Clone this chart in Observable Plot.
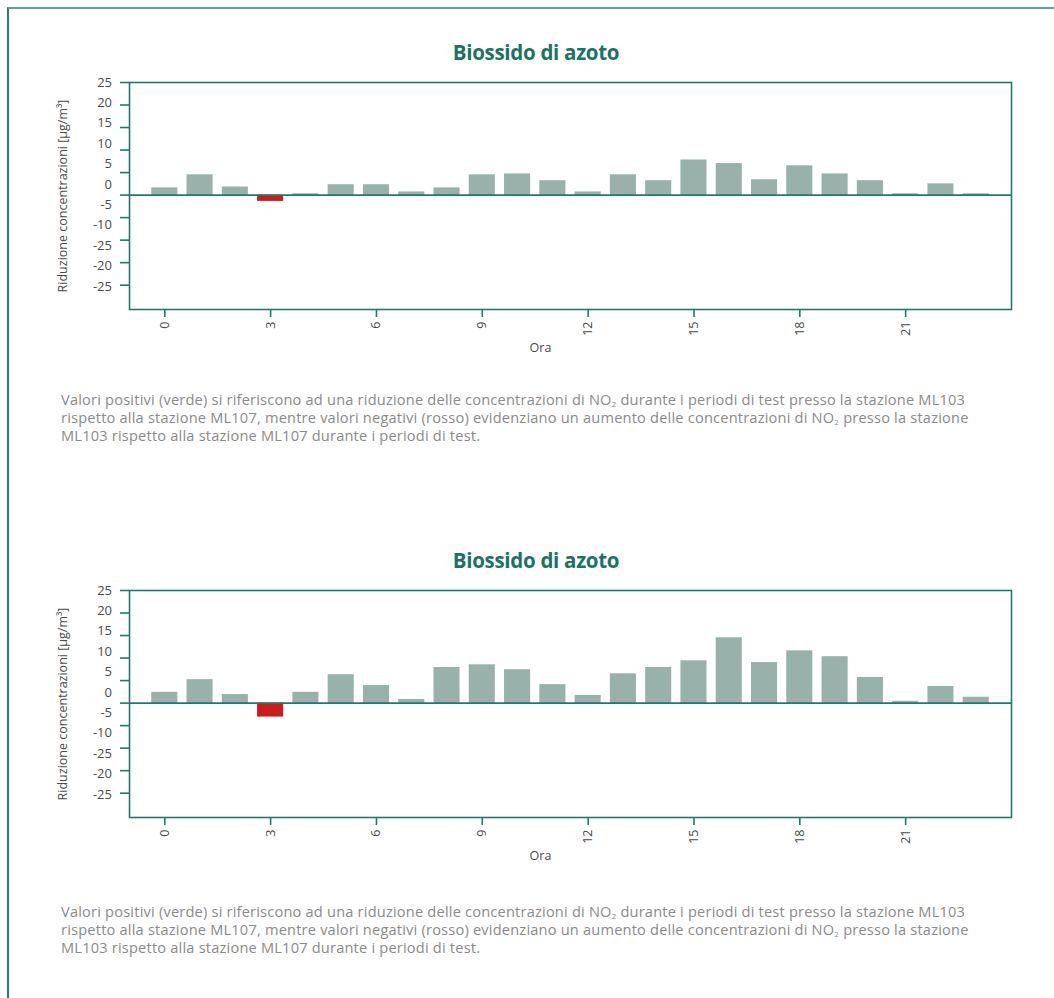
<!DOCTYPE html>
<html lang="it">
<head>
<meta charset="utf-8">
<script src="https://cdn.jsdelivr.net/npm/d3@7"></script>
<script src="https://cdn.jsdelivr.net/npm/@observablehq/plot@0.6"></script>
<style>
  html, body { margin: 0; padding: 0; background: #fff; }
  #page { position: relative; width: 1054px; height: 998px; overflow: hidden; font-family: "Open Sans", "Noto Sans", sans-serif; }
  #border { position: absolute; left: 7px; top: 7px; width: 1200px; height: 1200px;
            border-top: 2px solid #5fa297; border-left: 2px solid #2c7f72; }
  .title { position: absolute; left: 0; width: 1072px; text-align: center; font-weight: 700;
           font-size: 20.5px; color: #1b7363; letter-spacing: -0.3px; }
  .chart { position: absolute; left: 0; }
  .caption { position: absolute; left: 61px; font-size: 14.6px; letter-spacing: 0.2px; line-height: 18px; color: #8a8a8a; white-space: nowrap; }
  .caption sub { font-size: 8px; vertical-align: -1.5px; line-height: 0; }
</style>
</head>
<body>
<div id="page">
  <div id="border"></div>
  <div class="title" style="top:38px">Biossido di azoto</div>
  <div class="chart" id="chart1" style="top:70px"></div>
  <div class="caption" style="top:390px">Valori positivi (verde) si riferiscono ad una riduzione delle concentrazioni di NO<sub>2</sub> durante i periodi di test presso la stazione ML103<br>rispetto alla stazione ML107, mentre valori negativi (rosso) evidenziano un aumento delle concentrazioni di NO<sub>2</sub> presso la stazione<br>ML103 rispetto alla stazione ML107 durante i periodi di test.</div>
  <div class="title" style="top:546px">Biossido di azoto</div>
  <div class="chart" id="chart2" style="top:578px"></div>
  <div class="caption" style="top:902px">Valori positivi (verde) si riferiscono ad una riduzione delle concentrazioni di NO<sub>2</sub> durante i periodi di test presso la stazione ML103<br>rispetto alla stazione ML107, mentre valori negativi (rosso) evidenziano un aumento delle concentrazioni di NO<sub>2</sub> presso la stazione<br>ML103 rispetto alla stazione ML107 durante i periodi di test.</div>
</div>
<script>
// Hours of the day
const hours = d3.range(24);

// Reduction of NO2 concentration per hour, first panel [µg/m³]
const reduction1 = [1.6, 4.5, 1.8, -1.4, 0.3, 2.3, 2.3, 0.7, 1.6, 4.5, 4.7, 3.2,
                    0.7, 4.5, 3.2, 7.8, 7.0, 3.4, 6.5, 4.7, 3.2, 0.3, 2.5, 0.3];

// Reduction of NO2 concentration per hour, second panel [µg/m³]
const reduction2 = [2.4, 5.2, 1.9, -3.1, 2.4, 6.3, 3.9, 0.8, 7.9, 8.5, 7.4, 4.1,
                    1.7, 6.5, 7.9, 9.4, 14.5, 9.0, 11.6, 10.3, 5.7, 0.4, 3.7, 1.3];

// Axis ticks and their printed labels
const xTicks = [0, 3, 6, 9, 12, 15, 18, 21];
const yTicks = [25, 20, 15, 10, 5, 0, -5, -10, -15, -20];
const yTickLabels = ["25", "20", "15", "10", "5", "0", "-5", "-10", "-25", "-20", "-25"];

const xLabel = "Ora";
const yLabel = "Riduzione concentrazioni [µg/m³]";

const teal = "#23786b";
const green = "#98b1ab";
const red = "#cc1b1b";
const ink = "#4a4a4a";

// The printed labels run down the axis at a slightly tighter spacing than the tick marks
const labelStep = (25 + 20.3) / (yTickLabels.length - 1);
const labelPositions = yTickLabels.map((_, i) => 25 - i * labelStep);

function drawPanel(values) {
  const data = hours.map((h, i) => ({hour: h, value: values[i]}));
  return Plot.plot({
    width: 1054,
    height: 290,
    marginTop: 12,
    marginBottom: 51,
    marginLeft: 129,
    marginRight: 43,
    style: {fontFamily: "'Open Sans', 'Noto Sans', sans-serif", fontSize: "12.5px", color: ink, background: "transparent"},
    x: {domain: [-1, 24]},
    y: {domain: [-25.4, 25]},
    marks: [
      Plot.rectY(data.filter(d => d.value >= 0), {
        x1: d => d.hour - 0.5, x2: d => d.hour + 0.5, y1: -0.3, y2: "value",
        fill: green, insetLeft: 4.6, insetRight: 4.6
      }),
      Plot.rectY(data.filter(d => d.value < 0), {
        x1: d => d.hour - 0.5, x2: d => d.hour + 0.5, y1: 0, y2: "value",
        fill: red, insetLeft: 4.6, insetRight: 4.6
      }),
      Plot.ruleY([0], {stroke: teal, strokeWidth: 1.6}),
      Plot.frame({stroke: teal, strokeWidth: 1.6}),
      Plot.axisX({ticks: xTicks, tickSize: 8, tickRotate: -90, tickPadding: 4,
                  stroke: teal, strokeWidth: 1.6, label: null, fill: ink}),
      Plot.axisY({ticks: yTicks, tickSize: 9, stroke: teal, strokeWidth: 1.6,
                  tickFormat: () => "", label: null}),
      Plot.axisY({ticks: labelPositions, tickSize: 0, tickPadding: 17.5, fill: ink, fontSize: 13,
                  tickFormat: d => yTickLabels[labelPositions.indexOf(d)], label: null}),
      Plot.text([xLabel], {frameAnchor: "bottom", dx: -30, dy: 42, fill: ink, fontSize: 12.5}),
      Plot.text([yLabel], {frameAnchor: "left", textAnchor: "middle", dx: -67, rotate: -90, fill: ink, fontSize: 12.5})
    ]
  });
}

document.getElementById("chart1").appendChild(drawPanel(reduction1));
document.getElementById("chart2").appendChild(drawPanel(reduction2));
</script>
</body>
</html>
